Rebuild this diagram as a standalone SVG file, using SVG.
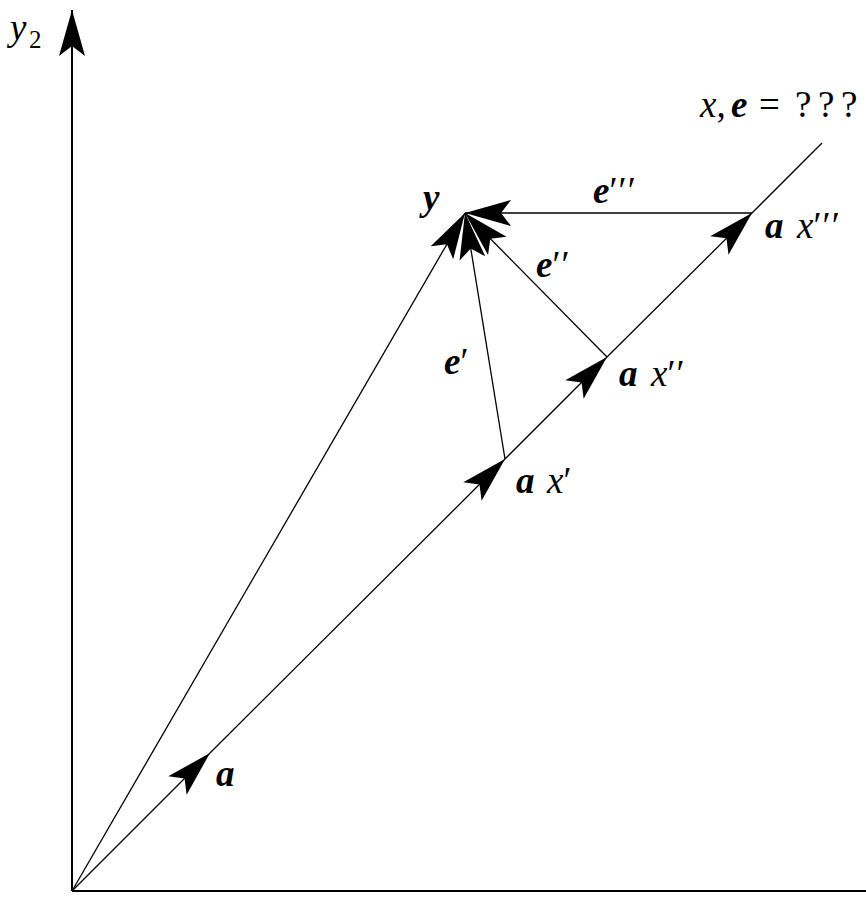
<svg xmlns="http://www.w3.org/2000/svg" width="866" height="907" viewBox="0 0 866 907">
<style>
.ln{stroke:#000;stroke-width:1.3;fill:none}
.ax{stroke:#000;stroke-width:2;fill:none}
.t{font-family:"Liberation Serif","DejaVu Serif",serif;font-size:37px;fill:#000;font-style:italic}
.b{font-weight:bold}
.r{font-style:normal}
.p{font-style:normal;letter-spacing:1px}
</style>
<defs>
<marker id="ah" markerUnits="userSpaceOnUse" viewBox="-48 -15 50 30" markerWidth="50" markerHeight="30" refX="0" refY="0" orient="auto" overflow="visible">
<path d="M0,0 L-46,-13 L-36,0 L-46,13 Z" fill="#000"/>
</marker>
</defs>
<rect width="866" height="907" fill="#fff"/>
<g id="connectors">
<line class="ax" x1="72" y1="891" x2="72" y2="10" marker-end="url(#ah)"/>
<line class="ax" x1="72" y1="891" x2="866" y2="891"/>
<line class="ln" x1="72" y1="891" x2="210" y2="753" marker-end="url(#ah)"/>
<line class="ln" x1="210" y1="753" x2="505" y2="459" marker-end="url(#ah)"/>
<line class="ln" x1="505" y1="459" x2="607" y2="357" marker-end="url(#ah)"/>
<line class="ln" x1="607" y1="357" x2="752" y2="213" marker-end="url(#ah)"/>
<line class="ln" x1="752" y1="213" x2="822" y2="143"/>
<line class="ln" x1="72" y1="891" x2="465" y2="213" marker-end="url(#ah)"/>
<line class="ln" x1="505" y1="459" x2="465" y2="213" marker-end="url(#ah)"/>
<line class="ln" x1="607" y1="357" x2="465" y2="213" marker-end="url(#ah)"/>
<line class="ln" x1="752" y1="213" x2="465" y2="213" marker-end="url(#ah)"/>
</g>
<g id="axis-label"><text class="t" x="10" y="40">y<tspan class="r" font-size="25" x="29" y="48">2</tspan></text></g>
<g id="node-y"><text class="t b" x="423" y="210">y</text></g>
<g id="node-a"><text class="t b" x="216" y="786">a</text></g>
<g id="node-ax1"><text class="t" x="516" y="493"><tspan class="b">a</tspan><tspan x="547">x</tspan><tspan class="p">′</tspan></text></g>
<g id="node-ax2"><text class="t" x="619" y="386"><tspan class="b">a</tspan><tspan x="651">x</tspan><tspan class="p">′′</tspan></text></g>
<g id="node-ax3"><text class="t" x="765" y="238"><tspan class="b">a</tspan><tspan x="797">x</tspan><tspan class="p">′′′</tspan></text></g>
<g id="label-e1"><text class="t" x="444" y="374"><tspan class="b">e</tspan><tspan class="p">′</tspan></text></g>
<g id="label-e2"><text class="t" x="536" y="277"><tspan class="b">e</tspan><tspan class="p">′′</tspan></text></g>
<g id="label-e3"><text class="t" x="593" y="203"><tspan class="b">e</tspan><tspan class="p">′′′</tspan></text></g>
<g id="label-q"><text class="t" x="700" y="117">x<tspan class="r">,</tspan><tspan class="b" x="731">e</tspan><tspan class="r" x="759">=</tspan><tspan class="r" x="795">?</tspan><tspan class="r" x="818">?</tspan><tspan class="r" x="841">?</tspan></text></g>
</svg>
